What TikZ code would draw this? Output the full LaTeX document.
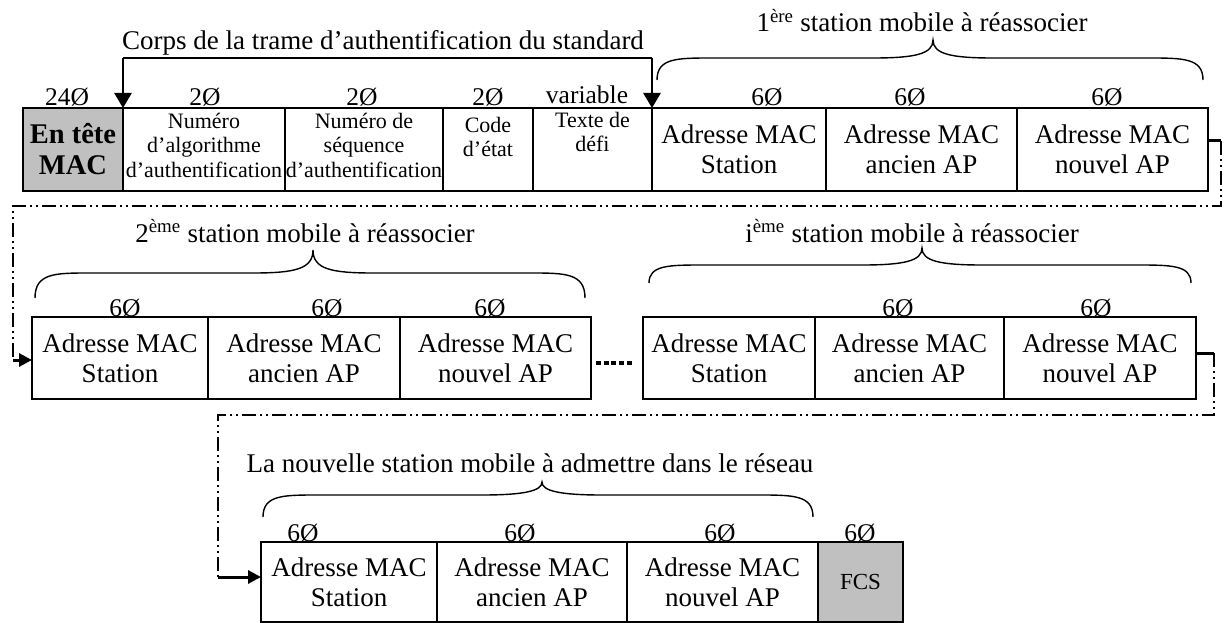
\documentclass[tikz,border=0pt]{standalone}
\usepackage{fontspec}
\setmainfont{Liberation Serif}
\usetikzlibrary{arrows.meta,calc}
\definecolor{boxgray}{RGB}{192,192,192}
\newcommand{\fbig}{\fontsize{27}{30}\selectfont}
\newcommand{\flab}{\fontsize{25.5}{29}\selectfont}
\newcommand{\fsmall}{\fontsize{22}{24.5}\selectfont}
\newcommand{\curlybrace}[6]{%
  \draw[bracesty] (#1,#4) .. controls (#1,#5) and (#1+20,#5) .. (#1+55,#5)
    -- (#3-60,#5) .. controls (#3-18,#5) and (#3,#5-4) .. (#3,#6)
    .. controls (#3,#5-4) and (#3+18,#5) .. (#3+60,#5)
    -- (#2-55,#5) .. controls (#2-20,#5) and (#2,#5) .. (#2,#4);}
\tikzset{
  cell/.style={draw, line width=1.3pt, inner sep=0pt, outer sep=0pt, anchor=north west,
    minimum height=83pt, font=\fbig, align=center},
  smalltxt/.style={anchor=north, font=\fsmall, align=center, inner sep=0pt},
  lab/.style={anchor=base, font=\flab, inner sep=0pt},
  txt/.style={anchor=base, font=\fbig, inner sep=0pt},
  bracesty/.style={line width=1.4pt},
  corps/.style={line width=2.6pt},
  corpsarrow/.style={line width=2.6pt, -{Triangle[length=15pt,width=17pt]}},
  conn/.style={line width=3pt},
  connarrow/.style={line width=3pt, -{Triangle[length=13pt,width=13pt]}},
  conndd/.style={line width=2.8pt, dash pattern=on 14pt off 4pt on 2pt off 4pt on 2pt off 4pt},
  dotsline/.style={line width=4.5pt, dash pattern=on 5pt off 2.7pt}
}
\begin{document}
\begin{tikzpicture}[x=1pt,y=-1pt]
\useasboundingbox (0,0) rectangle (1224,623);

% ---- Row 1
\node[cell, fill=boxgray, minimum width=100pt, font=\fontsize{28.5}{31}\selectfont\bfseries] (hdr) at (23,108) {En tête\\MAC};
\node[cell, minimum width=162pt] (algo) at (123,108) {};
\node[cell, minimum width=158pt] (seq) at (285,108) {};
\node[cell, minimum width=90pt] (code) at (443,108) {};
\node[cell, minimum width=119pt] (defi) at (533,108) {};
\node[cell, minimum width=174pt] (st1) at (652,108) {Adresse MAC\\Station};
\node[cell, minimum width=191pt] (anc1) at (826,108) {Adresse MAC\\ancien AP};
\node[cell, minimum width=191pt] (nouv1) at (1017,108) {Adresse MAC\\nouvel AP};

\node[smalltxt] (talgo) at ($(algo.north)+(0,5)$) {Numéro\\d’algorithme\\d’authentification};
\node[smalltxt] (tseq) at ($(seq.north)+(0,5)$) {Numéro de\\séquence\\d’authentification};
\node[smalltxt] (tcode) at ($(code.north)+(0,9)$) {Code\\d’état};
\node[smalltxt] (tdefi) at ($(defi.north)+(0,4)$) {Texte de\\défi};

\node[lab] (l10) at (67,106) {24Ø};
\node[lab] (l11) at (205,106) {2Ø};
\node[lab] (l12) at (362,106) {2Ø};
\node[lab] (l13) at (488,106) {2Ø};
\node[lab] (l14) at (587,104) {variable};
\node[lab] (l15) at (767,106) {6Ø};
\node[lab] (l16) at (910,106) {6Ø};
\node[lab] (l17) at (1107,106) {6Ø};

% Corps bracket
\node[txt] (corps) at (383,50) {Corps de la trame d’authentification du standard};
\coordinate (cl) at (123,58);
\coordinate (cr) at (652,58);
\draw[corps] (cl) -- (cr);
\draw[corpsarrow] (cl) -- (algo.north west);
\draw[corpsarrow] (cr) -- (st1.north west);

% Brace 1
\node[txt] (s1) at (922,32) {1\textsuperscript{ère} station mobile à réassocier};
\curlybrace{657}{1203}{933}{80}{58}{40}

% ---- Row 2
\node[cell, minimum width=176pt, minimum height=82pt] (st2) at (32,317) {Adresse MAC\\Station};
\node[cell, minimum width=192pt, minimum height=82pt] (anc2) at (208,317) {Adresse MAC\\ancien AP};
\node[cell, minimum width=191pt, minimum height=82pt] (nouv2) at (400,317) {Adresse MAC\\nouvel AP};
\node[cell, minimum width=172pt, minimum height=82pt] (sti) at (643,317) {Adresse MAC\\Station};
\node[cell, minimum width=189pt, minimum height=82pt] (anci) at (815,317) {Adresse MAC\\ancien AP};
\node[cell, minimum width=192pt, minimum height=82pt] (nouvi) at (1004,317) {Adresse MAC\\nouvel AP};

\draw[dotsline] ($(nouv2.east)+(5,5)$) -- ($(sti.west)+(-10.5,5)$);

\node[lab] (l21) at (125,316) {6Ø};
\node[lab] (l22) at (327,316) {6Ø};
\node[lab] (l23) at (490,316) {6Ø};
\node[lab] (l24) at (898,316) {6Ø};
\node[lab] (l25) at (1096,316) {6Ø};

\node[txt] (s2) at (305,242) {2\textsuperscript{ème} station mobile à réassocier};
\curlybrace{35}{585}{313}{298}{273}{250}
\node[txt] (si) at (912,242) {i\textsuperscript{ème} station mobile à réassocier};
\curlybrace{649}{1191}{922}{283}{265}{248}

% Connector row1 -> row2
\coordinate (ca1) at (1221,141);
\coordinate (ca2) at (1221,206);
\coordinate (ca3) at (13,206);
\coordinate (ca4) at (13,360);
\draw[conn] ($(nouv1.east)+(0,-8.5)$) -- (ca1);
\draw[conndd] (ca1) -- (ca2) -- (ca3) -- (ca4);
\draw[connarrow] (ca4) -- (ca4 -| st2.west);

% ---- Row 3
\node[cell, minimum width=176pt, minimum height=80pt] (st3) at (261,542) {Adresse MAC\\Station};
\node[cell, minimum width=190pt, minimum height=80pt] (anc3) at (437,542) {Adresse MAC\\ancien AP};
\node[cell, minimum width=191pt, minimum height=80pt] (nouv3) at (627,542) {Adresse MAC\\nouvel AP};
\node[cell, fill=boxgray, minimum width=85pt, minimum height=80pt, font=\fontsize{23}{26}\selectfont] (fcs) at (818,542) {FCS};

\node[lab] (l31) at (303,541) {6Ø};
\node[lab] (l32) at (520,541) {6Ø};
\node[lab] (l33) at (720,541) {6Ø};
\node[lab] (l34) at (860,541) {6Ø};

\node[txt] (snew) at (530,472) {La nouvelle station mobile à admettre dans le réseau};
\curlybrace{263}{813}{542}{517}{495}{482}

% Connector row2 -> row3
\coordinate (cb1) at (1214,353);
\coordinate (cb2) at (1214,415);
\coordinate (cb3) at (218,415);
\coordinate (cb4) at (218,577);
\draw[conn] ($(nouvi.east)+(0,-5)$) -- (cb1);
\draw[conndd] (cb1) -- (cb2) -- (cb3) -- (cb4);
\draw[connarrow] (cb4) -- (cb4 -| st3.west);
\end{tikzpicture}
\end{document}
